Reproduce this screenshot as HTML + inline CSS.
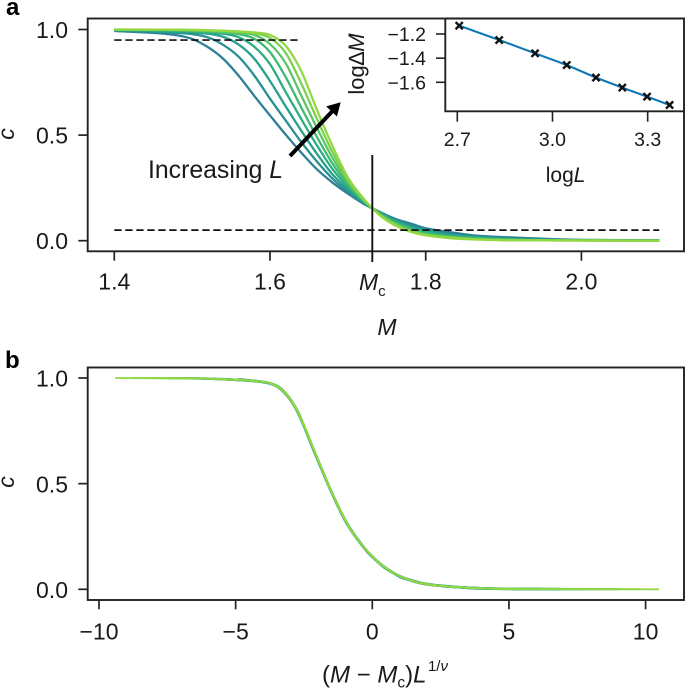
<!DOCTYPE html>
<html lang="en">
<head>
<meta charset="utf-8">
<title>Finite-size scaling chart</title>
<style>
html,body{margin:0;padding:0;background:#fff;}
svg{display:block;font-family:"Liberation Sans",Arial,sans-serif;fill:#1a1a1a;}
.tick{font-size:23px;}
.itick{font-size:19.5px;}
.lab{font-size:23px;font-style:italic;}
.panel{font-size:24px;font-weight:bold;fill:#000;}
.spine{fill:none;stroke:#222;stroke-width:1.9;}
</style>
</head>
<body>
<svg id="chart" xmlns="http://www.w3.org/2000/svg" width="685" height="690" viewBox="0 0 685 690">
  <rect x="0" y="0" width="685" height="690" fill="#fff"/>
  <text class="panel" x="6" y="15">a</text>
  <text class="panel" x="5" y="368">b</text>
  <g id="panelA"></g>
  <g id="panelB"></g>
  <rect class="spine" x="87.7" y="18.5" width="596.3" height="232.8"/>
  <rect class="spine" x="87.7" y="367.5" width="596.3" height="232.5"/>
  <text class="lab" transform="translate(14,134) rotate(-90)" text-anchor="middle">c</text>
  <text class="lab" transform="translate(14,482) rotate(-90)" text-anchor="middle">c</text>
  <text class="lab" x="387" y="335" text-anchor="middle">M</text>
  <text class="lab" x="359" y="290">M<tspan font-style="normal" font-size="15" dy="6">c</tspan></text>
  <text style="font-size:24px" x="322" y="682.5">(<tspan font-style="italic">M</tspan> − <tspan font-style="italic">M</tspan><tspan font-size="15.5" dy="5">c</tspan><tspan dy="-5">)</tspan><tspan font-style="italic">L</tspan><tspan font-size="15" dy="-11.5" dx="1.5">1/</tspan><tspan font-size="15" font-style="italic">ν</tspan></text>
  <text style="font-size:24.8px" x="148" y="178">Increasing <tspan font-style="italic">L</tspan></text>
  <line x1="290" y1="156" x2="333" y2="110.5" stroke="#000" stroke-width="4"/>
  <polygon points="340.7,102.3 336.9,116.5 326.2,106.4" fill="#000"/>
  <line x1="372.3" y1="155" x2="372.3" y2="262" stroke="#111" stroke-width="1.9"/>
  <g id="inset">
    <rect x="445.3" y="18.5" width="239.7" height="92.8" fill="#fff"/>
    <path class="spine" d="M445.3 18.5V111.3H685"/>
    <path class="spine" d="M445.3 18.5H684V111.3"/>
  </g>
  <text style="font-size:22px" transform="translate(364,64) rotate(-90)" text-anchor="middle">log∆<tspan font-style="italic">M</tspan></text>
  <text style="font-size:21px" x="565.6" y="182" text-anchor="middle">log<tspan font-style="italic">L</tspan></text>
</svg>
<script>
// ---- Data ----
const sizesL = [15, 17, 19, 21, 23, 25, 27, 29];
const massM = [1.40,1.45,1.48,1.50,1.52,1.54,1.56,1.58,1.60,1.62,1.64,1.66,1.68,1.70,1.72,1.74,1.76,1.78,1.80,1.83,1.86,1.90,1.95,2.00,2.10];
const cL15 = [.993,.984,.973,.9555,.917,.861,.780,.685,.593,.503,.418,.339,.276,.223,.175,.138,.105,.082,.059,.041,.026,.017,.0094,.004,.0018];
const cL17 = [.995,.989,.984,.978,.963,.927,.870,.781,.6725,.570,.468,.376,.295,.232,.179,.136,.100,.074,.054,.032,.022,.012,.0064,.003,.0014];
const cL19 = [.9975,.993,.989,.9856,.980,.965,.928,.861,.756,.637,.522,.413,.315,.242,.182,.134,.096,.067,.048,.027,.018,.0099,.0038,.002,.001];
const cL21 = [.9988,.9959,.9929,.990,.986,.980,.963,.918,.836,.705,.577,.453,.341,.254,.186,.132,.092,.060,.042,.024,.015,.0076,.003,.0017,.0008];
const cL23 = [.9992,.998,.9953,.993,.990,.9857,.978,.956,.893,.776,.632,.493,.367,.266,.189,.130,.087,.056,.036,.021,.0115,.0053,.0021,.0015,.0006];
const cL25 = [.9995,.9988,.9975,.9953,.9929,.989,.984,.974,.931,.841,.688,.536,.394,.277,.193,.128,.083,.051,.031,.018,.0098,.0037,.0018,.0012,.0004];
const cL27 = [.9996,.9992,.9982,.9973,.9949,.9923,.988,.982,.960,.890,.746,.579,.421,.289,.196,.126,.078,.047,.027,.015,.008,.003,.0016,.001,.0002];
const cL29 = [1.000,.9994,.9991,.9982,.997,.9943,.991,.9855,.9745,.9235,.804,.6225,.450,.300,.200,.1235,.074,.043,.025,.0125,.0063,.0024,.0014,.0008,0];
const criticalM = 1.731;
const nu = 1.006;
const thresholdHigh = 0.95;
const thresholdLow = 0.05;
const logL = [2.706,2.832,2.945,3.045,3.137,3.220,3.298,3.369];
const logDeltaM = [-1.131,-1.250,-1.360,-1.457,-1.561,-1.644,-1.719,-1.788];
const ticksCY = [1.0, 0.5, 0.0];
const ticksCYLabels = ['1.0', '0.5', '0.0'];
const ticksMX = [1.4, 1.6, 1.8, 2.0];
const ticksMXLabels = ['1.4', '1.6', '1.8', '2.0'];
const ticksBX = [-10, -5, 0, 5, 10];
const ticksBXLabels = ['−10', '−5', '0', '5', '10'];
const ticksInsetX = [2.7, 3.0, 3.3];
const ticksInsetXLabels = ['2.7', '3.0', '3.3'];
const ticksInsetY = [-1.2, -1.4, -1.6];
const ticksInsetYLabels = ['−1.2', '−1.4', '−1.6'];

// ---- Styles and axis functions ----
const seriesC = [cL15, cL17, cL19, cL21, cL23, cL25, cL27, cL29];
const colors = ['#2f8096', '#2a8f93', '#27a08c', '#2bae80', '#3fba72', '#5cc563', '#7ad151', '#93d741'];
const xA = m => 114.3 + (m - 1.4) * 778.5;
const yA = c => 240.7 - c * 211.2;
const xB = x => 372.3 + x * 27.33;
const yB = c => 589.3 - c * 211.3;
const xI = v => 457.3 + (v - 2.7) * 317.3;
const yI = v => 34 + (-1.2 - v) * 120.75;
const NS = 'http://www.w3.org/2000/svg';
const panelA = document.getElementById('panelA');
const panelB = document.getElementById('panelB');
const inset = document.getElementById('inset');

function mk(parent, tag, attrs, text) {
  const node = document.createElementNS(NS, tag);
  for (const k in attrs) node.setAttribute(k, attrs[k]);
  if (text !== undefined) node.textContent = text;
  parent.appendChild(node);
  return node;
}
// Smooth monotone cubic path through the data points
function smoothPath(xs, ys) {
  const n = xs.length, slope = [];
  const sec = [];
  for (let i = 0; i < n - 1; i++) sec.push((ys[i + 1] - ys[i]) / (xs[i + 1] - xs[i]));
  for (let i = 0; i < n; i++) {
    if (i === 0) slope.push(sec[0]);
    else if (i === n - 1) slope.push(sec[n - 2]);
    else if (sec[i - 1] * sec[i] <= 0) slope.push(0);
    else {
      const d = ((xs[i] - xs[i - 1]) * sec[i - 1] + (xs[i + 1] - xs[i]) * sec[i]) / (xs[i + 1] - xs[i - 1]);
      const lim = 3 * Math.min(Math.abs(sec[i - 1]), Math.abs(sec[i]));
      slope.push(Math.sign(d) * Math.min(Math.abs(d), lim));
    }
  }
  let d = 'M' + xs[0].toFixed(2) + ' ' + ys[0].toFixed(2);
  for (let i = 0; i < n - 1; i++) {
    const h = (xs[i + 1] - xs[i]) / 3;
    d += 'C' + (xs[i] + h).toFixed(2) + ' ' + (ys[i] + slope[i] * h).toFixed(2) + ' ' +
      (xs[i + 1] - h).toFixed(2) + ' ' + (ys[i + 1] - slope[i + 1] * h).toFixed(2) + ' ' +
      xs[i + 1].toFixed(2) + ' ' + ys[i + 1].toFixed(2);
  }
  return d;
}

// ---- Panel a curves ----
seriesC.forEach((vals, i) => {
  const line = mk(panelA, 'path', {
    d: smoothPath(massM.map(xA), vals.map(yA)),
    fill: 'none', stroke: colors[i], 'stroke-width': 2.3
  });
  
  
});
const dashHigh = mk(panelA, 'line', {x1: xA(1.4), x2: 299.5, y1: yA(thresholdHigh), y2: yA(thresholdHigh), stroke: '#111', 'stroke-width': 1.7, 'stroke-dasharray': '7.3 3.7'});


const dashLow = mk(panelA, 'line', {x1: xA(1.4), x2: xA(2.1), y1: yA(thresholdLow), y2: yA(thresholdLow), stroke: '#111', 'stroke-width': 1.7, 'stroke-dasharray': '7.3 3.7'});



// ---- Panel a ticks ----
ticksCY.forEach((v, i) => {
  const t = mk(panelA, 'line', {x1: 78.3, x2: 87.7, y1: yA(v), y2: yA(v), stroke: '#222', 'stroke-width': 1.7});
  
  
  const l = mk(panelA, 'text', {x: 68, y: yA(v) + 8.3, 'text-anchor': 'end', class: 'tick'}, ticksCYLabels[i]);
  
  
});
ticksMX.forEach((v, i) => {
  const t = mk(panelA, 'line', {x1: xA(v), x2: xA(v), y1: 251.3, y2: 260.7, stroke: '#222', 'stroke-width': 1.7});
  
  
  const l = mk(panelA, 'text', {x: xA(v), y: 289.5, 'text-anchor': 'middle', class: 'tick'}, ticksMXLabels[i]);
  
  
});

// ---- Panel b collapsed curves ----
seriesC.forEach((vals, i) => {
  const scale = Math.pow(sizesL[i], 1 / nu);
  const xs = massM.map(m => xB((m - criticalM) * scale));
  const line = mk(panelB, 'path', {
    d: smoothPath(xs, vals.map(yB)),
    fill: 'none', stroke: colors[i], 'stroke-width': 2.7 - i * 0.12
  });
  
  
});
ticksCY.forEach((v, i) => {
  const t = mk(panelB, 'line', {x1: 78.3, x2: 87.7, y1: yB(v), y2: yB(v), stroke: '#222', 'stroke-width': 1.7});
  
  
  const l = mk(panelB, 'text', {x: 68, y: yB(v) + 8.6, 'text-anchor': 'end', class: 'tick'}, ticksCYLabels[i]);
  
  
});
ticksBX.forEach((v, i) => {
  const t = mk(panelB, 'line', {x1: xB(v), x2: xB(v), y1: 600, y2: 609.3, stroke: '#222', 'stroke-width': 1.7});
  
  
  const l = mk(panelB, 'text', {x: xB(v), y: 639.3, 'text-anchor': 'middle', class: 'tick'}, ticksBXLabels[i]);
  
  
});

// ---- Inset ----
const fitLine = mk(inset, 'path', {
  d: 'M' + logL.map((v, i) => xI(v).toFixed(2) + ' ' + yI(logDeltaM[i]).toFixed(2)).join('L'),
  fill: 'none', stroke: '#0f78b5', 'stroke-width': 2.1
});


logL.forEach((v, i) => {
  const cx = xI(v), cy = yI(logDeltaM[i]), r = 3.6;
  const m = mk(inset, 'path', {
    d: 'M' + (cx - r) + ' ' + (cy - r) + 'L' + (cx + r) + ' ' + (cy + r) + 'M' + (cx - r) + ' ' + (cy + r) + 'L' + (cx + r) + ' ' + (cy - r),
    stroke: '#111', 'stroke-width': 2.4, fill: 'none'
  });
  
  
});
ticksInsetX.forEach((v, i) => {
  const t = mk(inset, 'line', {x1: xI(v), x2: xI(v), y1: 111.3, y2: 121.7, stroke: '#222', 'stroke-width': 1.6});
  
  
  const l = mk(inset, 'text', {x: xI(v), y: 146, 'text-anchor': 'middle', class: 'itick'}, ticksInsetXLabels[i]);
  
  
});
ticksInsetY.forEach((v, i) => {
  const t = mk(inset, 'line', {x1: 436, x2: 445.3, y1: yI(v), y2: yI(v), stroke: '#222', 'stroke-width': 1.6});
  
  
  const l = mk(inset, 'text', {x: 426, y: yI(v) + 7, 'text-anchor': 'end', class: 'itick'}, ticksInsetYLabels[i]);
  
  
});
</script>
</body>
</html>
